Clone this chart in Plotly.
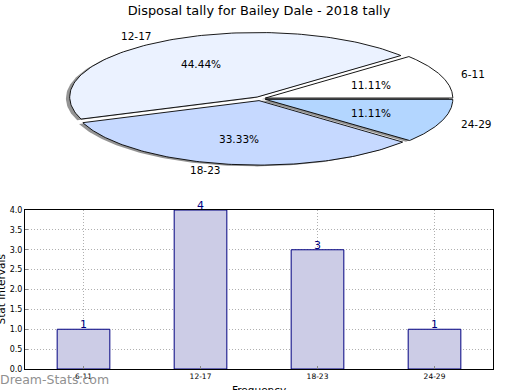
import numpy as np
import plotly.graph_objects as go

# ---------------- data ----------------
categories = ["6-11", "12-17", "18-23", "24-29"]
counts = [1, 4, 3, 1]
pie_colors = ["#ffffff", "#ebf2ff", "#c6d9ff", "#b3d6ff"]
y_ticks = [0.0, 0.5, 1.0, 1.5, 2.0, 2.5, 3.0, 3.5, 4.0]
title_text = "Disposal tally for Bailey Dale - 2018 tally"

FONT = "DejaVu Sans"
W, H = 520, 390
ML, MR, MT, MB = 25, 27, 0, 21
PW, PH = W - ML - MR, H - MT - MB

# pie geometry (pixel units in the pie axes)
CX, CY, RX, RY = 260.0, 98.7, 187.5, 64.5
EXPLODE = 0.03
SHADOW = (-0.02, -0.02)
PIE_DOM = 0.5
pie_bottom_px = PH * (1 - PIE_DOM)

fig = go.Figure()

total = float(sum(counts))
fracs = [c / total for c in counts]
starts = np.cumsum([0] + fracs[:-1]) * 360.0


def wedge(t1, t2, dx, dy):
    th = np.radians(np.linspace(t1, t2, 120))
    xs = np.concatenate([[CX + dx], CX + dx + RX * np.cos(th), [CX + dx]])
    ys = np.concatenate([[CY - dy], CY - dy - RY * np.sin(th), [CY - dy]])
    return xs, ys


# shadows
for f, s in zip(fracs, starts):
    mid = np.radians(s + f * 180)
    ex = EXPLODE * RX * np.cos(mid)
    ey = EXPLODE * RY * np.sin(mid)
    xs, ys = wedge(s, s + f * 360, ex + SHADOW[0] * RX, ey + SHADOW[1] * RY)
    fig.add_trace(go.Scatter(x=xs, y=ys, xaxis="x2", yaxis="y2", mode="lines",
                             fill="toself", fillcolor="rgba(60,60,60,0.55)",
                             line=dict(width=0), hoverinfo="skip", showlegend=False))

annotations = []
for cat, f, s, col in zip(categories, fracs, starts, pie_colors):
    mid = np.radians(s + f * 180)
    ex = EXPLODE * RX * np.cos(mid)
    ey = EXPLODE * RY * np.sin(mid)
    xs, ys = wedge(s, s + f * 360, ex, ey)
    fig.add_trace(go.Scatter(x=xs, y=ys, xaxis="x2", yaxis="y2", mode="lines",
                             fill="toself", fillcolor=col,
                             line=dict(color="black", width=0.9),
                             hoverinfo="skip", showlegend=False))
    # percentage label
    annotations.append(dict(x=CX + ex + 0.6 * RX * np.cos(mid),
                            y=CY - ey - 0.6 * RY * np.sin(mid),
                            xref="x2", yref="y2", text=f"{f * 100:.2f}%",
                            showarrow=False, xanchor="center", yanchor="middle",
                            font=dict(family=FONT, size=10.5, color="black")))
    # category label
    lx = CX + ex + 1.1 * RX * np.cos(mid)
    ly = CY - ey - 1.1 * RY * np.sin(mid)
    annotations.append(dict(x=lx, y=ly, xref="x2", yref="y2", text=cat,
                            showarrow=False,
                            xanchor="left" if np.cos(mid) > 0 else "right",
                            yanchor="middle",
                            font=dict(family=FONT, size=10.5, color="black")))

# bars
fig.add_trace(go.Bar(x=categories, y=counts, width=0.45,
                     marker=dict(color="#ccccE6", line=dict(color="#000080", width=1)),
                     hoverinfo="skip", showlegend=False))
for cat, c in zip(categories, counts):
    annotations.append(dict(x=cat, y=c, xref="x", yref="y", text=str(c),
                            showarrow=False, xanchor="center", yanchor="bottom",
                            yshift=-4,
                            font=dict(family=FONT, size=11, color="#000080")))


def px_x(p):
    return (p - ML) / PW


def px_y(p):
    return (H - MB - p) / PH


# axis titles & watermark
annotations.append(dict(x=px_x(0.5), y=px_y(290), xref="paper", yref="paper",
                        text="Stat Intervals", showarrow=False, textangle=-90,
                        xanchor="center", yanchor="middle",
                        font=dict(family=FONT, size=10.5, color="black")))
annotations.append(dict(x=px_x(259), y=px_y(382), xref="paper", yref="paper",
                        text="Frequency", showarrow=False, xanchor="center", yanchor="top",
                        font=dict(family=FONT, size=10.5, color="black")))
annotations.append(dict(x=px_x(-2), y=px_y(379), xref="paper", yref="paper",
                        text="Dream-Stats.com", showarrow=False, xanchor="left", yanchor="middle",
                        font=dict(family=FONT, size=12.5, color="#909090")))

GRID = dict(showgrid=True, gridcolor="#b0b0b0", griddash="1px,2px", gridwidth=1,
            showline=True, linecolor="black", linewidth=1, mirror=True,
            ticks="inside", ticklen=3, tickcolor="#888888",
            zeroline=False, fixedrange=True)

fig.update_layout(
    width=W, height=H,
    margin=dict(l=ML, r=MR, t=MT, b=MB, autoexpand=False),
    paper_bgcolor="white", plot_bgcolor="white",
    title=dict(text=title_text, x=0.5, xref="paper", y=1 - 10 / H, yref="container",
               xanchor="center", yanchor="middle",
               font=dict(family=FONT, size=12.9, color="black")),
    font=dict(family=FONT),
    annotations=annotations,
    xaxis=dict(domain=[0, 1], range=[-0.5, 3.5], type="category",
               tickfont=dict(family=FONT, size=7.5, color="black"), **GRID),
    yaxis=dict(domain=[0, 159 / PH], range=[0, 4], tickvals=y_ticks,
               ticktext=[f"{v:.1f}" for v in y_ticks],
               tickfont=dict(family=FONT, size=8, color="black"), **GRID),
    xaxis2=dict(domain=[0, 1], range=[ML, W - MR], visible=False, fixedrange=True),
    yaxis2=dict(domain=[PIE_DOM, 1], range=[pie_bottom_px, 0], visible=False,
                fixedrange=True, anchor="x2"),
)
fig.update_traces(cliponaxis=False, selector=dict(type="bar"))

fig.write_html("out.html", config={"displayModeBar": False},
               post_script="document.body.style.margin='0';document.body.style.overflow='hidden';")
